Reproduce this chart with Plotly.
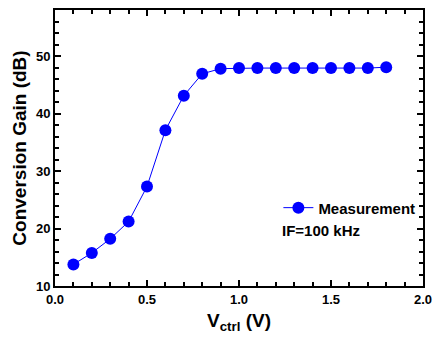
import plotly.graph_objects as go

vctrl = [0.1, 0.2, 0.3, 0.4, 0.5, 0.6, 0.7, 0.8, 0.9, 1.0, 1.1, 1.2, 1.3, 1.4, 1.5, 1.6, 1.7, 1.8]
gain = [13.75, 15.75, 18.2, 21.2, 27.3, 37.1, 43.1, 46.9, 47.8, 47.9, 47.9, 47.9, 47.9, 47.9, 47.9, 47.9, 47.9, 48.05]

FONT = "Liberation Sans, Arial, sans-serif"

fig = go.Figure()
fig.add_trace(go.Scatter(
    x=vctrl, y=gain, mode="lines+markers", name="<b>Measurement</b>",
    line=dict(color="#0000ff", width=1),
    marker=dict(color="#0000ff", size=12, symbol="circle"),
))

axis_common = dict(
    showline=True, linewidth=2, linecolor="black", mirror="ticks",
    ticks="inside", ticklen=6, tickwidth=2, tickcolor="black",
    showgrid=False, zeroline=False,
    tickfont=dict(family=FONT, size=13, color="black", weight="bold"),
)

fig.update_layout(
    width=440, height=339,
    margin=dict(l=55, r=8, t=10, b=53),
    plot_bgcolor="white", paper_bgcolor="white",
    font=dict(family=FONT, color="black"),
    xaxis=dict(range=[0, 2.0], tickvals=[0, 0.5, 1.0, 1.5, 2.0],
               ticktext=["0.0", "0.5", "1.0", "1.5", "2.0"],
               minor=dict(dtick=0.1, ticks="inside", ticklen=4, tickwidth=1.5, tickcolor="black"),
               title=dict(text="<b>V<sub>ctrl</sub> (V)</b>", font=dict(family=FONT, size=19), standoff=8),
               **axis_common),
    yaxis=dict(range=[10, 58], tickvals=[10, 20, 30, 40, 50],
               minor=dict(dtick=2, ticks="inside", ticklen=4, tickwidth=1.5, tickcolor="black"),
               title=dict(text="<b>Conversion Gain (dB)</b>", font=dict(family=FONT, size=19), standoff=4),
               **axis_common),
    showlegend=True,
    legend=dict(x=0.607, y=0.283, xanchor="left", yanchor="middle",
                bgcolor="rgba(0,0,0,0)", font=dict(family=FONT, size=15, color="black"),
                itemwidth=30),
)
fig.add_annotation(x=0.612, y=0.2, xref="paper", yref="paper", xanchor="left", yanchor="middle",
                   text="<b>IF=100 kHz</b>", showarrow=False,
                   font=dict(family=FONT, size=15, color="black"))

fig.write_html("out.html")
